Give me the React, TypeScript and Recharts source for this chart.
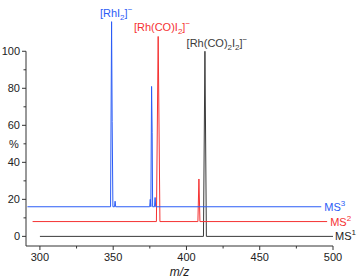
import { LineChart, Line, XAxis, YAxis, ReferenceLine, ReferenceDot } from 'recharts';

// m/z positions and relative intensities
const ms1Mz = [300, 411.6, 412.6, 413.6, 500];
const ms1Int = [0, 0, 100, 0, 0];

const ms2Mz = [295, 379.5, 380.7, 381.9, 407.8, 408.5, 409.2, 496];
const ms2Int = [0, 0, 100, 0, 0, 23, 0, 0];

const ms3Mz = [291.5, 348.2, 348.9, 349.3, 349.8, 350.9, 351.3, 351.7, 374.9, 375.3, 375.7, 376.2, 376.6, 376.9, 378.2, 378.6, 379.0, 492];
const ms3Int = [0, 0, 100, 46, 0, 0, 3, 0, 0, 4, 0, 65, 40, 0, 0, 5, 0, 0];

// vertical stacking of the three spectra
const offsets = { ms1: 0, ms2: 8, ms3: 16 };

const xTicks = [300, 325, 350, 375, 400, 425, 450, 475, 500];
const yTicks = [0, 10, 20, 30, 40, 50, 60, 70, 80, 90, 100];

const BLUE = '#2b5cf6';
const RED = '#f53232';
const BLACK = '#3a3a3a';
const AXIS = '#333';
const FONT = '"Liberation Sans", Arial, sans-serif';

const toRows = (mz: number[], vals: number[], off: number) =>
  mz.map((m, i) => ({ mz: m, y: vals[i] + off }));

const ms1 = toRows(ms1Mz, ms1Int, offsets.ms1);
const ms2 = toRows(ms2Mz, ms2Int, offsets.ms2);
const ms3 = toRows(ms3Mz, ms3Int, offsets.ms3);

const XTick = (props: any) => {
  const { x, y, payload } = props;
  const major = payload.value % 50 === 0;
  return (
    <g>
      <line x1={x} x2={x} y1={y} y2={y + (major ? 4 : 2.5)} stroke={AXIS} />
      {major && (
        <text x={x} y={y + 15} textAnchor="middle" fontSize={11} fontFamily={FONT} fill="#222">
          {payload.value}
        </text>
      )}
    </g>
  );
};

const YTick = (props: any) => {
  const { x, y, payload } = props;
  const major = payload.value % 20 === 0;
  return (
    <g>
      <line x1={x - (major ? 4 : 2.5)} x2={x} y1={y} y2={y} stroke={AXIS} />
      {major && (
        <text x={x - 6} y={y + 4} textAnchor="end" fontSize={11} fontFamily={FONT} fill="#222">
          {payload.value}
        </text>
      )}
    </g>
  );
};

type Part = { t: string; sub?: boolean; sup?: boolean };

const ionLabel = (parts: Part[], color: string, anchor: 'middle' | 'start', dx = 0, dy = 0) => (props: any) => {
  const { cx, cy } = props;
  let shift = 0;
  return (
    <text x={cx + dx} y={cy + dy} textAnchor={anchor} fontSize={11} fontFamily={FONT} fill={color}>
      {parts.map((p, i) => {
        const target = p.sub ? 3 : p.sup ? -5 : 0;
        const d = target - shift;
        shift = target;
        return (
          <tspan key={i} dy={d} fontSize={p.sub || p.sup ? 8 : 11}>
            {p.t}
          </tspan>
        );
      })}
    </text>
  );
};

const App = () => {
  return (
    <div style={{ position: 'absolute', left: 0, top: 0, width: 358, height: 279, background: '#fff' }}>
      <LineChart width={358} height={279} margin={{ top: 5, right: 25, bottom: 0, left: 0 }}>
        <XAxis
          type="number"
          dataKey="mz"
          domain={[290.5, 500]}
          ticks={xTicks}
          interval={0}
          tickLine={false}
          tickSize={0}
          tickMargin={0}
          tick={XTick}
          axisLine={{ stroke: AXIS }}
          height={33}
          label={{ value: 'm/z', position: 'insideBottom', offset: 3, fontStyle: 'italic', fontSize: 12, fontFamily: FONT, fill: '#222' }}
        />
        <YAxis
          type="number"
          domain={[-5.2, 125]}
          ticks={yTicks}
          interval={0}
          tickLine={false}
          tickSize={0}
          tickMargin={0}
          tick={YTick}
          axisLine={false}
          width={26}
        />
        <ReferenceLine segment={[{ x: 290.5, y: -5.2 }, { x: 290.5, y: 100 }]} stroke={AXIS} />
        <ReferenceDot x={290.5} y={50} r={0} ifOverflow="visible"
          shape={(p: any) => (
            <text x={p.cx - 12} y={p.cy + 4} textAnchor="middle" fontSize={11} fontFamily={FONT} fill="#222">%</text>
          )} />

        <Line data={ms1} dataKey="y" type="linear" stroke={BLACK} strokeWidth={1} dot={false} isAnimationActive={false} />
        <Line data={ms2} dataKey="y" type="linear" stroke={RED} strokeWidth={1} dot={false} isAnimationActive={false} />
        <Line data={ms3} dataKey="y" type="linear" stroke={BLUE} strokeWidth={1} dot={false} isAnimationActive={false} />

        <ReferenceDot x={352} y={118.5} r={0} ifOverflow="visible"
          shape={ionLabel([{ t: '[RhI' }, { t: '2', sub: true }, { t: ']' }, { t: '−', sup: true }], BLUE, 'middle')} />
        <ReferenceDot x={383.3} y={111} r={0} ifOverflow="visible"
          shape={ionLabel([{ t: '[Rh(CO)I' }, { t: '2', sub: true }, { t: ']' }, { t: '−', sup: true }], RED, 'middle')} />
        <ReferenceDot x={420.8} y={102.3} r={0} ifOverflow="visible"
          shape={ionLabel([{ t: '[Rh(CO)' }, { t: '2', sub: true }, { t: 'I' }, { t: '2', sub: true }, { t: ']' }, { t: '−', sup: true }], BLACK, 'middle')} />

        <ReferenceDot x={492} y={offsets.ms3} r={0} ifOverflow="visible"
          shape={ionLabel([{ t: 'MS' }, { t: '3', sup: true }], BLUE, 'start', 3, 4)} />
        <ReferenceDot x={496} y={offsets.ms2} r={0} ifOverflow="visible"
          shape={ionLabel([{ t: 'MS' }, { t: '2', sup: true }], RED, 'start', 3, 4)} />
        <ReferenceDot x={500} y={offsets.ms1} r={0} ifOverflow="visible"
          shape={ionLabel([{ t: 'MS' }, { t: '1', sup: true }], '#222', 'start', 2, 4)} />
      </LineChart>
    </div>
  );
};

export default App;
